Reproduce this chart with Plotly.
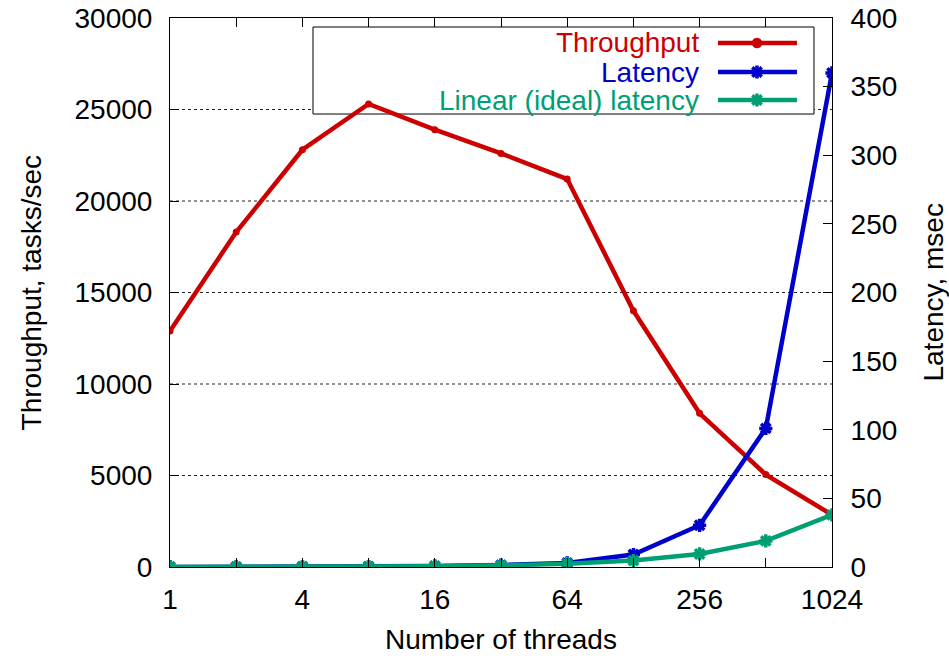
import plotly.graph_objects as go

threads = [1, 2, 4, 8, 16, 32, 64, 128, 256, 512, 1024]
throughput = [12900, 18300, 22800, 25300, 23900, 22600, 21200, 14000, 8400, 5050, 2850]
latency = [0.08, 0.11, 0.18, 0.32, 0.67, 1.4, 3.0, 9.1, 30.4, 101, 360]
linear_latency = [0.04, 0.07, 0.15, 0.3, 0.6, 1.2, 2.4, 4.7, 9.5, 19, 38]

x_tick_text = ["1", "", "4", "", "16", "", "64", "", "256", "", "1024"]
y_tick_vals = [0, 5000, 10000, 15000, 20000, 25000, 30000]
y2_tick_vals = [0, 50, 100, 150, 200, 250, 300, 350, 400]
series_names = ["Throughput", "Latency", "Linear (ideal) latency"]
colors = ["#cc0000", "#0000cc", "#009e73"]

FONT = "Liberation Sans, Arial, Helvetica, sans-serif"
FS = 28

fig = go.Figure()

fig.add_trace(go.Scatter(
    x=threads, y=throughput, mode="lines+markers", name=series_names[0],
    line=dict(color=colors[0], width=4.5),
    marker=dict(symbol="circle", size=7, color=colors[0]),
    xaxis="x", yaxis="y", showlegend=False))
fig.add_trace(go.Scatter(
    x=threads, y=latency, mode="lines+markers", name=series_names[1],
    line=dict(color=colors[1], width=4.5),
    marker=dict(symbol="asterisk-open", size=11, color=colors[1], line=dict(width=3.5, color=colors[1])),
    xaxis="x", yaxis="y2", showlegend=False))
fig.add_trace(go.Scatter(
    x=threads, y=linear_latency, mode="lines+markers", name=series_names[2],
    line=dict(color=colors[2], width=4.5),
    marker=dict(symbol="asterisk-open", size=11, color=colors[2], line=dict(width=3.5, color=colors[2])),
    xaxis="x", yaxis="y2", showlegend=False))

# dotted grid lines at the inner left-axis ticks (shapes, so the legend box can cover them)
for v in y_tick_vals[1:-1]:
    fig.add_shape(type="line", xref="x domain", yref="y", x0=0, x1=1, y0=v, y1=v,
                  line=dict(color="#222222", width=1, dash="dot"), layer="below")

# custom legend (text right-aligned, sample on the right)
leg_rows = [0.9545, 0.9016, 0.8506]
leg_text_x = 0.8020
leg_line = (0.8278, 0.9471)
leg_mark = 0.8867
symbols = ["circle", "asterisk-open", "asterisk-open"]
sizes = [7, 11, 11]

fig.add_shape(type="rect", xref="x domain", yref="y domain",
              x0=0.216, x1=0.9728, y0=0.8251, y1=0.9836,
              line=dict(color="black", width=1), fillcolor="white", layer="below")

for i in range(3):
    fig.add_trace(go.Scatter(
        x=[leg_line[0], leg_line[1]], y=[leg_rows[i], leg_rows[i]], mode="lines",
        line=dict(color=colors[i], width=4.5), xaxis="x3", yaxis="y3",
        showlegend=False, hoverinfo="skip"))
    fig.add_trace(go.Scatter(
        x=[leg_mark], y=[leg_rows[i]], mode="markers",
        marker=dict(symbol=symbols[i], size=sizes[i], color=colors[i],
                    line=dict(width=3.5, color=colors[i])),
        xaxis="x3", yaxis="y3", showlegend=False, hoverinfo="skip"))
    fig.add_annotation(x=leg_text_x, y=leg_rows[i], xref="x domain", yref="y domain",
                       text=series_names[i], showarrow=False, xanchor="right", yanchor="middle",
                       font=dict(family=FONT, size=FS, color=colors[i]))

# axis titles
fig.add_annotation(x=0.5, y=-0.1326, xref="paper", yref="paper", text="Number of threads",
                   showarrow=False, xanchor="center", yanchor="middle",
                   font=dict(family=FONT, size=FS, color="black"))
fig.add_annotation(x=-0.2085, y=0.5, xref="paper", yref="paper", text="Throughput, tasks/sec",
                   showarrow=False, textangle=-90, xanchor="center", yanchor="middle",
                   font=dict(family=FONT, size=FS, color="black"))
fig.add_annotation(x=1.1526, y=0.5, xref="paper", yref="paper", text="Latency, msec",
                   showarrow=False, textangle=-90, xanchor="center", yanchor="middle",
                   font=dict(family=FONT, size=FS, color="black"))

axis_common = dict(showline=True, linecolor="black", linewidth=1, ticks="inside",
                   ticklen=9, tickcolor="black", tickwidth=1, zeroline=False,
                   tickfont=dict(family=FONT, size=FS, color="black"))

fig.update_layout(
    width=949, height=656,
    margin=dict(l=170, r=117, t=18, b=89, autoexpand=False),
    paper_bgcolor="white", plot_bgcolor="white",
    showlegend=False,
    xaxis=dict(type="log", range=[0, 3.0103], tickvals=threads, ticktext=x_tick_text,
               mirror="ticks", showgrid=False, ticklabelstandoff=7, **axis_common),
    yaxis=dict(range=[0, 30000], tickvals=y_tick_vals, tickformat="d", showgrid=False,
               ticklabelstandoff=11, ticklabeloverflow="allow", **axis_common),
    yaxis2=dict(range=[0, 400], tickvals=y2_tick_vals, overlaying="y", side="right",
                showgrid=False, ticklabelstandoff=12, ticklabeloverflow="allow", **axis_common),
    xaxis3=dict(range=[0, 1], overlaying="x", visible=False, fixedrange=True),
    yaxis3=dict(range=[0, 1], overlaying="y", visible=False, fixedrange=True),
)

fig.write_html("out.html", config={"displayModeBar": False},
               post_script="document.body.style.margin='0';document.body.style.overflow='hidden';")
